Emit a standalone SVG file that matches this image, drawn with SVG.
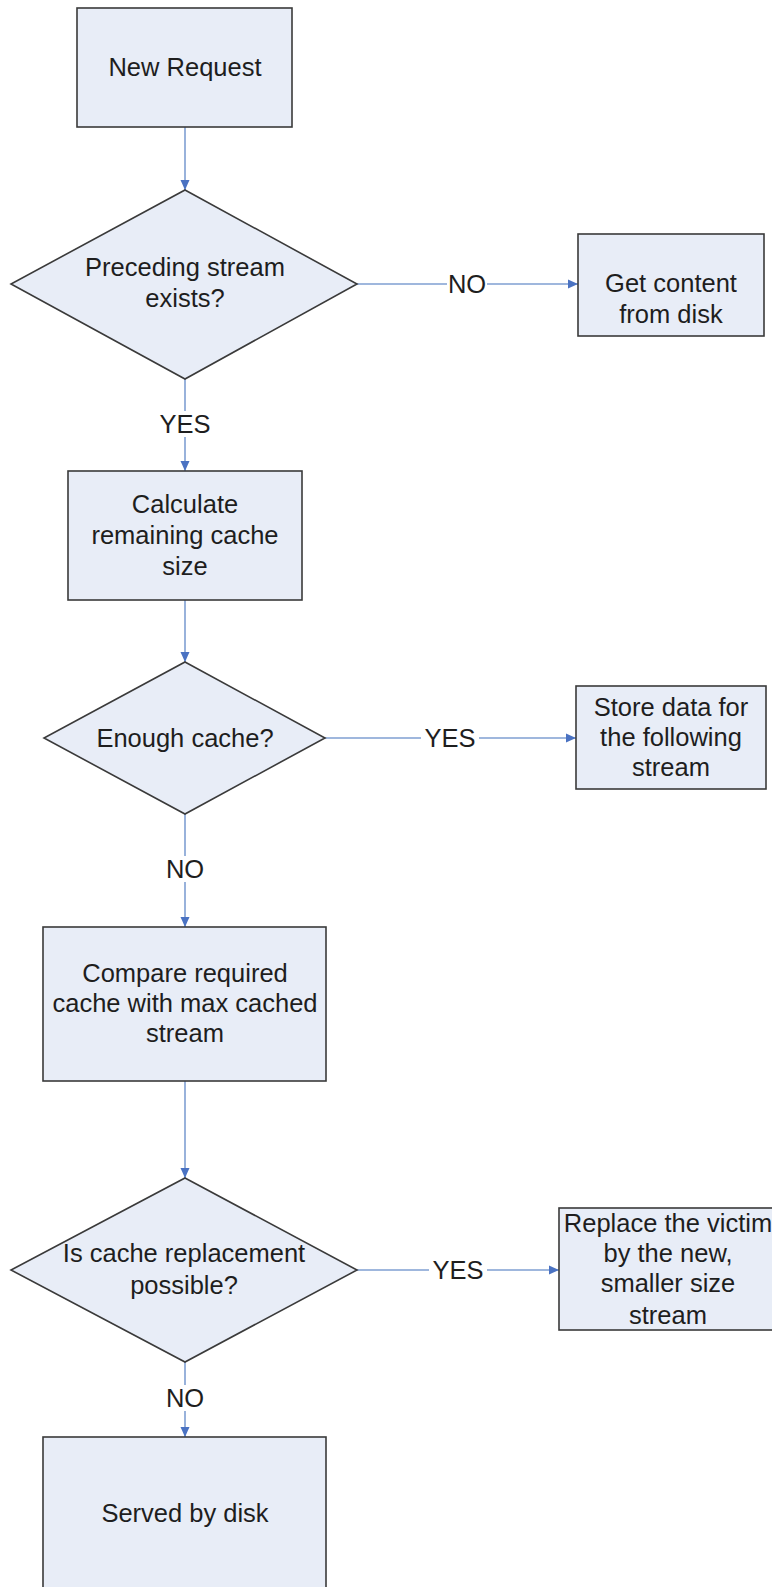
<svg xmlns="http://www.w3.org/2000/svg" width="772" height="1587" viewBox="0 0 772 1587">
<style>
.node{fill:#e8edf7;stroke:#3a3a3a;stroke-width:1.6}
.t{font-family:"Liberation Sans",Arial,sans-serif;font-size:25.5px;fill:#1e1e1e;text-anchor:middle}
.c{stroke:#7f9fd2;stroke-width:1.6;fill:none}
.ca{stroke:#7f9fd2;stroke-width:1.6;fill:none;marker-end:url(#ah)}
</style>
<defs>
<marker id="ah" markerUnits="userSpaceOnUse" markerWidth="12" markerHeight="12" viewBox="0 0 12 12" refX="10" refY="6" orient="auto">
<path d="M0,1.5 L10,6 L0,10.5 Z" fill="#4a72c2"/>
</marker>
</defs>
<rect width="772" height="1587" fill="#ffffff"/>
<g id="connectors">
<line class="ca" x1="185" y1="127" x2="185" y2="190"/>
<line class="c" x1="357" y1="284" x2="447" y2="284"/>
<line class="ca" x1="487" y1="284" x2="578" y2="284"/>
<line class="c" x1="185" y1="379" x2="185" y2="411"/>
<line class="ca" x1="185" y1="437" x2="185" y2="471"/>
<line class="ca" x1="185" y1="600" x2="185" y2="662"/>
<line class="c" x1="325" y1="738" x2="421" y2="738"/>
<line class="ca" x1="479" y1="738" x2="576" y2="738"/>
<line class="c" x1="185" y1="814" x2="185" y2="856"/>
<line class="ca" x1="185" y1="882" x2="185" y2="927"/>
<line class="ca" x1="185" y1="1081" x2="185" y2="1178"/>
<line class="c" x1="357" y1="1270" x2="429" y2="1270"/>
<line class="ca" x1="487" y1="1270" x2="559" y2="1270"/>
<line class="c" x1="185" y1="1362" x2="185" y2="1385"/>
<line class="ca" x1="185" y1="1411" x2="185" y2="1437"/>
<text class="t" x="467" y="293">NO</text>
<text class="t" x="185" y="433">YES</text>
<text class="t" x="450" y="747">YES</text>
<text class="t" x="185" y="878">NO</text>
<text class="t" x="458" y="1279">YES</text>
<text class="t" x="185" y="1407">NO</text>
</g>
<g id="new-request">
<rect class="node" x="77" y="8" width="215" height="119"/>
<text class="t" x="185" y="76">New Request</text>
</g>
<g id="preceding-stream">
<polygon class="node" points="185,190 357,284 185,379 11,284"/>
<text class="t" x="185" y="276">Preceding stream</text>
<text class="t" x="185" y="307">exists?</text>
</g>
<g id="get-content">
<rect class="node" x="578" y="234" width="186" height="102"/>
<text class="t" x="671" y="292">Get content</text>
<text class="t" x="671" y="323">from disk</text>
</g>
<g id="calculate">
<rect class="node" x="68" y="471" width="234" height="129"/>
<text class="t" x="185" y="513">Calculate</text>
<text class="t" x="185" y="544">remaining cache</text>
<text class="t" x="185" y="575">size</text>
</g>
<g id="enough-cache">
<polygon class="node" points="185,662 325,738 185,814 44,738"/>
<text class="t" x="185" y="747">Enough cache?</text>
</g>
<g id="store-data">
<rect class="node" x="576" y="686" width="190" height="103"/>
<text class="t" x="671" y="716">Store data for</text>
<text class="t" x="671" y="746">the following</text>
<text class="t" x="671" y="776">stream</text>
</g>
<g id="compare">
<rect class="node" x="43" y="927" width="283" height="154"/>
<text class="t" x="185" y="982">Compare required</text>
<text class="t" x="185" y="1012">cache with max cached</text>
<text class="t" x="185" y="1042">stream</text>
</g>
<g id="replacement-possible">
<polygon class="node" points="185,1178 357,1270 185,1362 11,1270"/>
<text class="t" x="184" y="1262">Is cache replacement</text>
<text class="t" x="184" y="1294">possible?</text>
</g>
<g id="replace-victim">
<rect class="node" x="559" y="1208" width="240" height="122"/>
<text class="t" x="668" y="1232">Replace the victim</text>
<text class="t" x="668" y="1262">by the new,</text>
<text class="t" x="668" y="1292">smaller size</text>
<text class="t" x="668" y="1324">stream</text>
</g>
<g id="served-by-disk">
<rect class="node" x="43" y="1437" width="283" height="170"/>
<text class="t" x="185" y="1522">Served by disk</text>
</g>
</svg>
